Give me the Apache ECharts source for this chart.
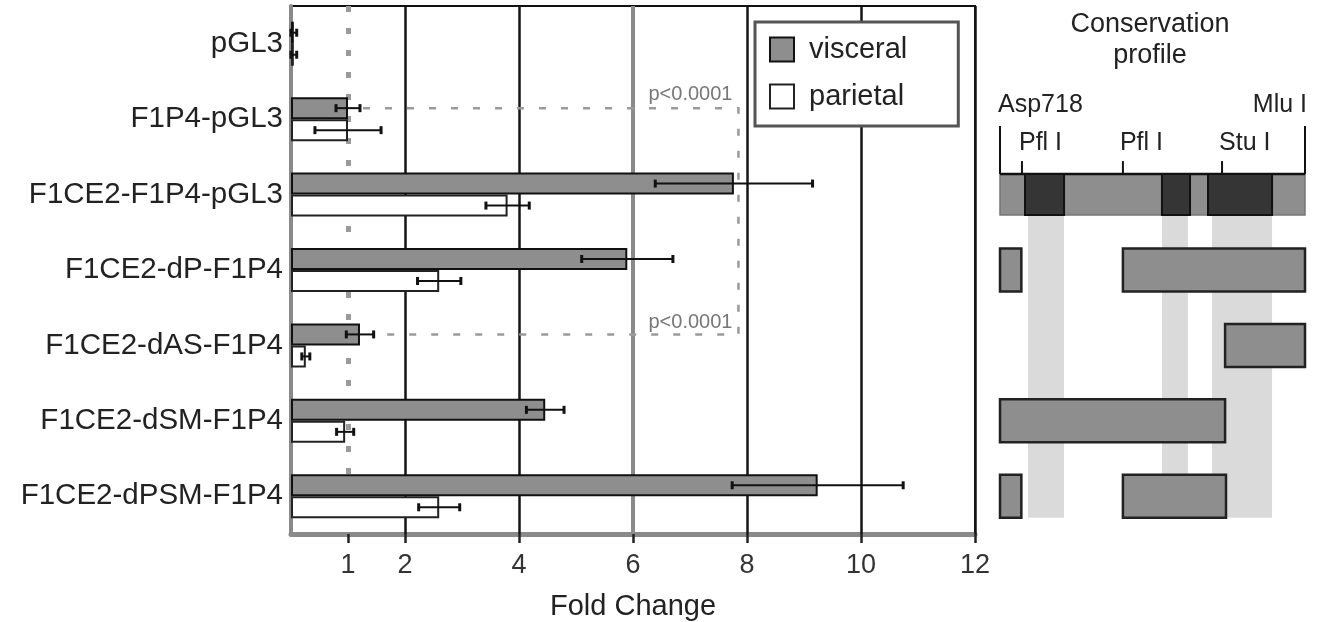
<!DOCTYPE html>
<html><head><meta charset="utf-8">
<script src="https://cdn.jsdelivr.net/npm/echarts@6/dist/echarts.min.js"></script>
<style>html,body{margin:0;padding:0;background:#fff}#c{width:1319px;height:622px}</style>
</head><body><div id="c"></div>
<script>
// ---- data ----
const categories = ['pGL3', 'F1P4-pGL3', 'F1CE2-F1P4-pGL3', 'F1CE2-dP-F1P4', 'F1CE2-dAS-F1P4', 'F1CE2-dSM-F1P4', 'F1CE2-dPSM-F1P4'];
const visceral = [0.05, 1.0, 7.77, 5.9, 1.21, 4.46, 9.24];
const visceralErr = [0.05, 0.21, 1.38, 0.8, 0.24, 0.33, 1.5];
const parietal = [0.05, 1.0, 3.8, 2.6, 0.26, 0.95, 2.6];
const parietalErr = [0.05, 0.58, 0.38, 0.38, 0.07, 0.15, 0.36];
const xTickValues = [1, 2, 4, 6, 8, 10, 12];
const gridBlack = [2, 4, 8, 10, 12];
const gridGray = [6];
const refLine = [1];
const pBrackets = [{ fromRow: 1, toRow: 4, x: 7.85, label: 'p<0.0001' }];

// conservation profile (relative position 0..100 along construct)
const constructRow = 2;
const conserved = [[8.2, 21.0], [53.1, 62.3], [68.2, 89.2]];
const shading = [[9.2, 21.0], [53.1, 61.6], [69.5, 89.2]];
const sites = [['Pfl I', 7.2], ['Pfl I', 40.3], ['Stu I', 72.8]];
const ends = [['Asp718', 0], ['Mlu I', 100]];
const deletions = [
  [3, 0, 7], [3, 40.3, 100],
  [4, 73.8, 100],
  [5, 0, 73.8],
  [6, 0, 7], [6, 40.3, 74.1]
];

// ---- chart ----
const FONT = 'Liberation Sans, Arial, sans-serif';
const BAR_W = 22;
const ROW_H = 43;
const chart = echarts.init(document.getElementById('c'));

function errSeries(name, vals, errs, sign) {
  return {
    type: 'custom', name: name, xAxisIndex: 0, yAxisIndex: 0, z: 4,
    data: vals.map((v, i) => [i, v - errs[i], v + errs[i]]),
    encode: { y: 0, x: [1, 2] },
    renderItem: function (params, api) {
      const cat = api.value(0);
      const a = api.coord([api.value(1), cat]);
      const b = api.coord([api.value(2), cat]);
      const y = a[1] + sign * BAR_W / 2;
      const st = { stroke: '#111', lineWidth: 2 };
      const cap = { stroke: '#111', lineWidth: 3 };
      return { type: 'group', children: [
        { type: 'line', shape: { x1: a[0], y1: y, x2: b[0], y2: y }, style: st },
        { type: 'line', shape: { x1: a[0], y1: y - 4, x2: a[0], y2: y + 4 }, style: cap },
        { type: 'line', shape: { x1: b[0], y1: y - 4, x2: b[0], y2: y + 4 }, style: cap }
      ]};
    }
  };
}

const markLineData = []
  .concat(gridBlack.map(v => ({ xAxis: v, lineStyle: { color: '#151515', width: 2.5, type: 'solid' } })))
  .concat(gridGray.map(v => ({ xAxis: v, lineStyle: { color: '#8a8a8a', width: 4, type: 'solid' } })))
  .concat(refLine.map(v => ({ xAxis: v, lineStyle: { color: '#9a9a9a', width: 5, type: [6, 16] } })));

const option = {
  animation: false,
  backgroundColor: '#fff',
  textStyle: { fontFamily: FONT },
  grid: [
    { left: 291, top: 6, width: 684, height: 528, outerBoundsMode: 'none', containLabel: false, show: true, borderColor: '#111', borderWidth: 2, backgroundColor: 'transparent' },
    { left: 1000, top: 6, width: 305, height: 528, outerBoundsMode: 'none', containLabel: false }
  ],
  xAxis: [
    {
      type: 'value', gridIndex: 0, min: 0, max: 12,
      name: 'Fold Change', nameLocation: 'middle', nameGap: 58,
      nameTextStyle: { fontSize: 29, color: '#222', fontFamily: FONT },
      axisLine: { show: true, lineStyle: { color: '#8a8a8a', width: 5 } },
      axisTick: { show: true, length: 9, customValues: xTickValues, lineStyle: { color: '#222', width: 2.5 } },
      axisLabel: { customValues: xTickValues, fontSize: 27, color: '#333', margin: 18, fontFamily: FONT },
      splitLine: { show: false }
    },
    { type: 'value', gridIndex: 1, min: 0, max: 100, show: false }
  ],
  yAxis: [
    {
      type: 'category', gridIndex: 0, data: categories, inverse: true,
      axisLine: { show: true, lineStyle: { color: '#8a8a8a', width: 4 } },
      axisTick: { show: false },
      axisLabel: { fontSize: 29.5, color: '#222', margin: 8, fontFamily: FONT },
      splitLine: { show: false }
    },
    { type: 'category', gridIndex: 1, data: categories, inverse: true, show: false }
  ],
  legend: {
    data: ['visceral', 'parietal'], orient: 'vertical', left: 755, top: 22,
    padding: [13, 51, 15, 14], itemWidth: 24, itemHeight: 24, itemGap: 18,
    borderColor: '#555', borderWidth: 3, backgroundColor: '#fff', z: 6,
    icon: 'rect',
    textStyle: { fontSize: 29, color: '#222', fontFamily: FONT, padding: [0, 0, 0, 10] }
  },
  graphic: [
    { type: 'text', x: 1150, y: 9, z: 10,
      style: { text: 'Conservation\nprofile', textAlign: 'center', font: '27px ' + FONT, lineHeight: 31, fill: '#222' } }
  ],
  series: [
    {
      type: 'bar', name: 'visceral', xAxisIndex: 0, yAxisIndex: 0, z: 2,
      data: visceral, barWidth: BAR_W, barGap: '0%',
      itemStyle: { color: '#8e8e8e', borderColor: '#111', borderWidth: 2 },
      markLine: { silent: true, z: 1, symbol: ['none', 'none'], label: { show: false }, data: markLineData }
    },
    {
      type: 'bar', name: 'parietal', xAxisIndex: 0, yAxisIndex: 0, z: 2,
      data: parietal, barWidth: BAR_W, barGap: '0%',
      itemStyle: { color: '#ffffff', borderColor: '#222', borderWidth: 2 }
    },
    errSeries('visceral err', visceral, visceralErr, -1),
    errSeries('parietal err', parietal, parietalErr, 1),
    // p-value brackets
    {
      type: 'custom', name: 'p bracket', xAxisIndex: 0, yAxisIndex: 0, z: 5, silent: true,
      data: pBrackets.map(p => [p.fromRow, p.toRow, p.x,
        visceral[p.fromRow] + visceralErr[p.fromRow], visceral[p.toRow] + visceralErr[p.toRow]]),
      renderItem: function (params, api) {
        const p = pBrackets[params.dataIndex];
        const r1 = api.value(0), r2 = api.value(1), bx = api.value(2);
        const a = api.coord([api.value(3), r1]);
        const c1 = api.coord([bx, r1]);
        const c2 = api.coord([bx, r2]);
        const b = api.coord([api.value(4), r2]);
        const y1 = a[1] - BAR_W / 2, y2 = b[1] - BAR_W / 2;
        const ls = { stroke: '#9a9a9a', lineWidth: 2.5, lineDash: [7, 15], fill: null };
        return { type: 'group', children: [
          { type: 'polyline', shape: { points: [[a[0] + 3, y1], [c1[0], y1], [c2[0], y2], [b[0] + 3, y2]] }, style: ls },
          { type: 'text', x: c1[0] - 6, y: y1 - 4, style: { text: p.label, textAlign: 'right', textVerticalAlign: 'bottom', font: '20px ' + FONT, fill: '#777' } },
          { type: 'text', x: c2[0] - 6, y: y2 - 2, style: { text: p.label, textAlign: 'right', textVerticalAlign: 'bottom', font: '20px ' + FONT, fill: '#777' } }
        ]};
      }
    },
    // shading bands
    {
      type: 'custom', name: 'shading', xAxisIndex: 1, yAxisIndex: 1, z: 1, silent: true,
      data: shading.map(s => [s[0], constructRow, s[1], categories.length - 1]),
      encode: { x: [0, 2], y: 1 },
      renderItem: function (params, api) {
        const a = api.coord([api.value(0), api.value(1)]);
        const b = api.coord([api.value(2), api.value(3)]);
        const y0 = a[1] + ROW_H / 2, y1 = b[1] + ROW_H / 2;
        return { type: 'rect', shape: { x: a[0], y: y0, width: b[0] - a[0], height: y1 - y0 }, style: { fill: '#dadada' } };
      }
    },
    // construct map (full length + conserved blocks)
    {
      type: 'custom', name: 'construct', xAxisIndex: 1, yAxisIndex: 1, z: 3, silent: true,
      data: [[constructRow, 0, 100, 0]].concat(conserved.map(c => [constructRow, c[0], c[1], 1])),
      encode: { y: 0, x: [1, 2] },
      renderItem: function (params, api) {
        const a = api.coord([api.value(1), api.value(0)]);
        const b = api.coord([api.value(2), api.value(0)]);
        const kind = api.value(3);
        const y = a[1] - ROW_H / 2 + 1;
        if (kind === 0) {
          return { type: 'group', children: [
            { type: 'rect', shape: { x: a[0], y: y, width: b[0] - a[0], height: ROW_H - 2 }, style: { fill: '#8e8e8e', stroke: '#777', lineWidth: 1.5 } },
            { type: 'line', shape: { x1: a[0], y1: y, x2: b[0], y2: y }, style: { stroke: '#111', lineWidth: 2.5 } }
          ]};
        }
        return { type: 'rect', shape: { x: a[0], y: y, width: b[0] - a[0], height: ROW_H - 2 }, style: { fill: '#353535', stroke: '#111', lineWidth: 2 } };
      }
    },
    // restriction sites + ends
    {
      type: 'custom', name: 'sites', xAxisIndex: 1, yAxisIndex: 1, z: 3, silent: true,
      data: ends.map(e => [e[1], constructRow, 0]).concat(sites.map(s => [s[1], constructRow, 1])),
      encode: { x: 0, y: 1 },
      renderItem: function (params, api) {
        const idx = params.dataIndex;
        const isSite = api.value(2) === 1;
        const name = isSite ? sites[idx - ends.length][0] : ends[idx][0];
        const c = api.coord([api.value(0), api.value(1)]);
        const top = c[1] - ROW_H / 2 + 1;
        if (isSite) {
          return { type: 'group', children: [
            { type: 'line', shape: { x1: c[0], y1: top - 13, x2: c[0], y2: top }, style: { stroke: '#111', lineWidth: 2 } },
            { type: 'text', x: c[0] - 3, y: top - 18, style: { text: name, textAlign: 'left', textVerticalAlign: 'bottom', font: '25px ' + FONT, fill: '#222' } }
          ]};
        }
        const right = api.value(0) > 50;
        return { type: 'group', children: [
          { type: 'line', shape: { x1: c[0], y1: top - 48, x2: c[0], y2: top }, style: { stroke: '#111', lineWidth: 2 } },
          { type: 'text', x: right ? c[0] + 2 : c[0] - 2, y: top - 56, style: { text: name, textAlign: right ? 'right' : 'left', textVerticalAlign: 'bottom', font: '25px ' + FONT, fill: '#222' } }
        ]};
      }
    },
    // deletion constructs
    {
      type: 'custom', name: 'deletions', xAxisIndex: 1, yAxisIndex: 1, z: 3, silent: true,
      data: deletions,
      encode: { y: 0, x: [1, 2] },
      renderItem: function (params, api) {
        const a = api.coord([api.value(1), api.value(0)]);
        const b = api.coord([api.value(2), api.value(0)]);
        return { type: 'rect', shape: { x: a[0], y: a[1] - ROW_H / 2, width: b[0] - a[0], height: ROW_H },
          style: { fill: '#8e8e8e', stroke: '#222', lineWidth: 2.5 } };
      }
    }
  ]
};
chart.setOption(option);
</script>
</body></html>
